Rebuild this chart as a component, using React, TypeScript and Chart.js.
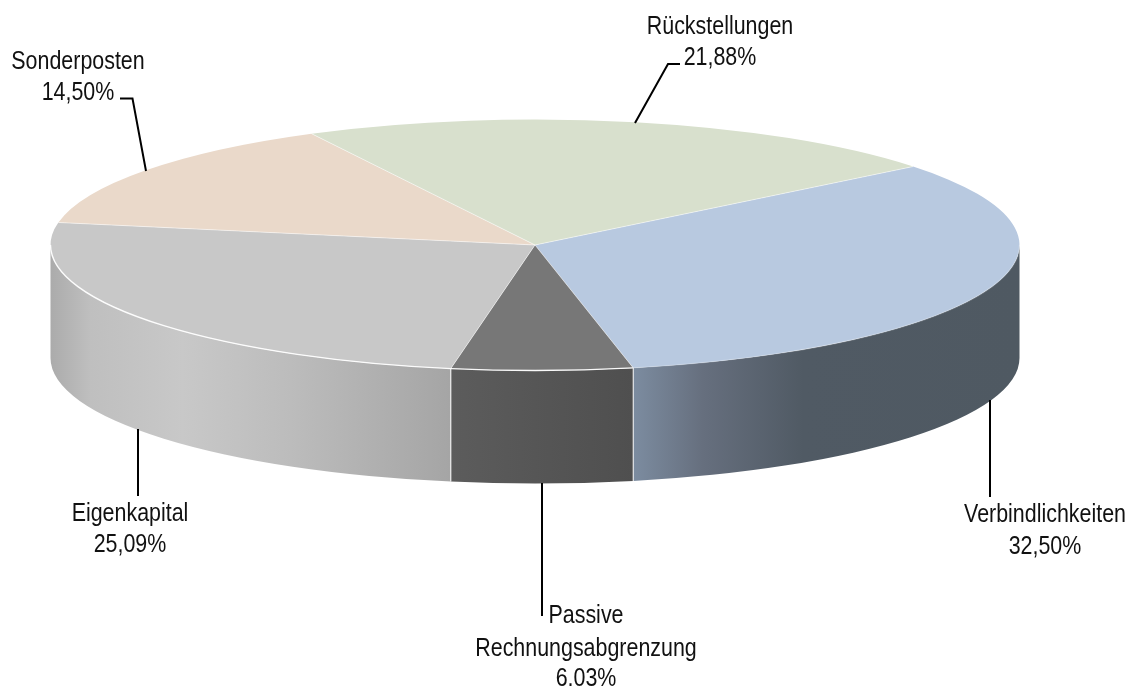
import React, { useEffect, useRef } from "react";
import { Chart, registerables } from "chart.js";

Chart.register(...registerables);

const categories = ["Verbindlichkeiten", "Passive\nRechnungsabgrenzung", "Eigenkapital", "Sonderposten", "Rückstellungen"];
const shares = [32.5, 6.03, 25.09, 14.5, 21.88];
const topColors = ["#b8c9e0", "#777777", "#c8c8c8", "#ead9ca", "#d8e0cd"];
const wallStops = [
  [[0, "#7c8ca0"], [0.18, "#666f7e"], [0.44, "#505a64"], [1, "#4f5962"]],
  [[0, "#5c5c5c"], [1, "#4f4f4f"]],
  [[0, "#ababab"], [0.1, "#bfbfbf"], [0.33, "#c8c8c8"], [0.6, "#bcbcbc"], [1, "#a5a5a5"]],
  [[0, "#999999"], [1, "#999999"]],
  [[0, "#999999"], [1, "#999999"]],
];
const rimAlpha = [0.2, 0.95, 0.95, 0, 0];
const startRotation = 51.3;

const W = 1131;
const H = 686;
const CX = 535;
const CY = 245;
const RX = 484.5;
const RY = 125.5;
const DEPTH = 113;
const FONT = '25.5px "Liberation Sans", Arial, sans-serif';
const TEXT_STRETCH = 0.84;
const INK = "#111111";

const labelCenters = [
  { x: 1045, y: [522, 554] },
  { x: 586, y: [623, 656, 686] },
  { x: 130, y: [521, 552] },
  { x: 78, y: [69, 100] },
  { x: 720, y: [34, 65] },
];
const leaders = [
  [[990, 400], [990, 497]],
  [[542, 483], [542, 616]],
  [[138, 429], [138, 496]],
  [[120, 98.5], [132.5, 98.5], [146, 171]],
  [[680, 64], [668, 64], [635, 123]],
];

const percent = (v: number) => v.toFixed(2).replace(".", ",") + "%";
const TAU = Math.PI * 2;

const piePlugin = {
  id: "tiltedPie",
  beforeDatasetsDraw(chart: any) {
    const ctx = chart.ctx;
    const arcs = chart.getDatasetMeta(0).data;
    const first = arcs[0];
    ctx.save();
    arcs.forEach((arc: any, i: number) => {
      const a0 = ((arc.startAngle % TAU) + TAU) % TAU;
      let a = a0 > Math.PI ? a0 - TAU : a0;
      let b = a + (arc.endAngle - arc.startAngle);
      a = Math.max(a, 0);
      b = Math.min(b, Math.PI);
      if (b <= a) return;
      const x0 = CX + RX * Math.cos(a);
      const x1 = CX + RX * Math.cos(b);
      const g = ctx.createLinearGradient(Math.min(x0, x1), 0, Math.max(x0, x1), 0);
      wallStops[i].forEach((s: any) => g.addColorStop(s[0], s[1]));
      ctx.beginPath();
      ctx.ellipse(CX, CY, RX, RY, 0, a, b);
      ctx.ellipse(CX, CY + DEPTH, RX, RY, 0, b, a, true);
      ctx.closePath();
      ctx.fillStyle = g;
      ctx.fill();
    });
    ctx.restore();
    ctx.save();
    ctx.translate(CX, CY);
    ctx.scale(RX / first.outerRadius, RY / first.outerRadius);
    ctx.translate(-first.x, -first.y);
  },
  afterDatasetsDraw(chart: any) {
    const ctx = chart.ctx;
    ctx.restore();
    const arcs = chart.getDatasetMeta(0).data;
    ctx.save();
    ctx.lineCap = "butt";
    // radial seams on the top face
    arcs.forEach((arc: any) => {
      ctx.beginPath();
      ctx.moveTo(CX, CY);
      ctx.lineTo(CX + RX * Math.cos(arc.startAngle), CY + RY * Math.sin(arc.startAngle));
      ctx.strokeStyle = "rgba(255,255,255,0.5)";
      ctx.lineWidth = 1;
      ctx.stroke();
    });
    // front rim and vertical seams
    arcs.forEach((arc: any, i: number) => {
      const a0 = ((arc.startAngle % TAU) + TAU) % TAU;
      let a = a0 > Math.PI ? a0 - TAU : a0;
      let b = a + (arc.endAngle - arc.startAngle);
      if (a >= 0 && a <= Math.PI) {
        const x = CX + RX * Math.cos(a);
        const y = CY + RY * Math.sin(a);
        ctx.beginPath();
        ctx.moveTo(x, y);
        ctx.lineTo(x, y + DEPTH);
        ctx.strokeStyle = "rgba(255,255,255,0.8)";
        ctx.lineWidth = 1.2;
        ctx.stroke();
      }
      a = Math.max(a, 0);
      b = Math.min(b, Math.PI);
      if (b <= a || rimAlpha[i] === 0) return;
      ctx.beginPath();
      ctx.ellipse(CX, CY, RX, RY, 0, a, b);
      ctx.strokeStyle = `rgba(255,255,255,${rimAlpha[i]})`;
      ctx.lineWidth = 1.4;
      ctx.stroke();
    });
    // leader lines
    ctx.strokeStyle = "#000000";
    ctx.lineWidth = 2;
    ctx.lineJoin = "miter";
    leaders.forEach((pts) => {
      ctx.beginPath();
      pts.forEach((p, k) => (k === 0 ? ctx.moveTo(p[0], p[1]) : ctx.lineTo(p[0], p[1])));
      ctx.stroke();
    });
    // labels
    ctx.font = FONT;
    ctx.fillStyle = INK;
    ctx.textAlign = "center";
    ctx.textBaseline = "alphabetic";
    const labels = chart.data.labels as string[];
    labels.forEach((name, i) => {
      const lines = [...name.split("\n"), percent(shares[i])];
      lines.forEach((t, k) => {
        ctx.save();
        ctx.translate(labelCenters[i].x, labelCenters[i].y[k]);
        ctx.scale(TEXT_STRETCH, 1);
        ctx.fillText(t, 0, 0);
        ctx.restore();
      });
    });
    ctx.restore();
  },
};

export default function App() {
  const ref = useRef<HTMLCanvasElement | null>(null);
  useEffect(() => {
    const chart = new Chart(ref.current as HTMLCanvasElement, {
      type: "pie",
      data: {
        labels: categories,
        datasets: [
          {
            data: shares,
            backgroundColor: topColors,
            borderWidth: 0,
            clip: false,
          } as any,
        ],
      },
      options: {
        responsive: false,
        animation: false,
        devicePixelRatio: 1,
        events: [],
        rotation: startRotation,
        layout: { padding: 0 },
        plugins: { legend: { display: false }, tooltip: { enabled: false } },
      } as any,
      plugins: [piePlugin],
    });
    return () => chart.destroy();
  }, []);
  return (
    <div style={{ position: "absolute", left: 0, top: 0, width: W, height: H, overflow: "hidden", background: "#ffffff" }}>
      <canvas ref={ref} width={W} height={H} style={{ display: "block" }} />
    </div>
  );
}
